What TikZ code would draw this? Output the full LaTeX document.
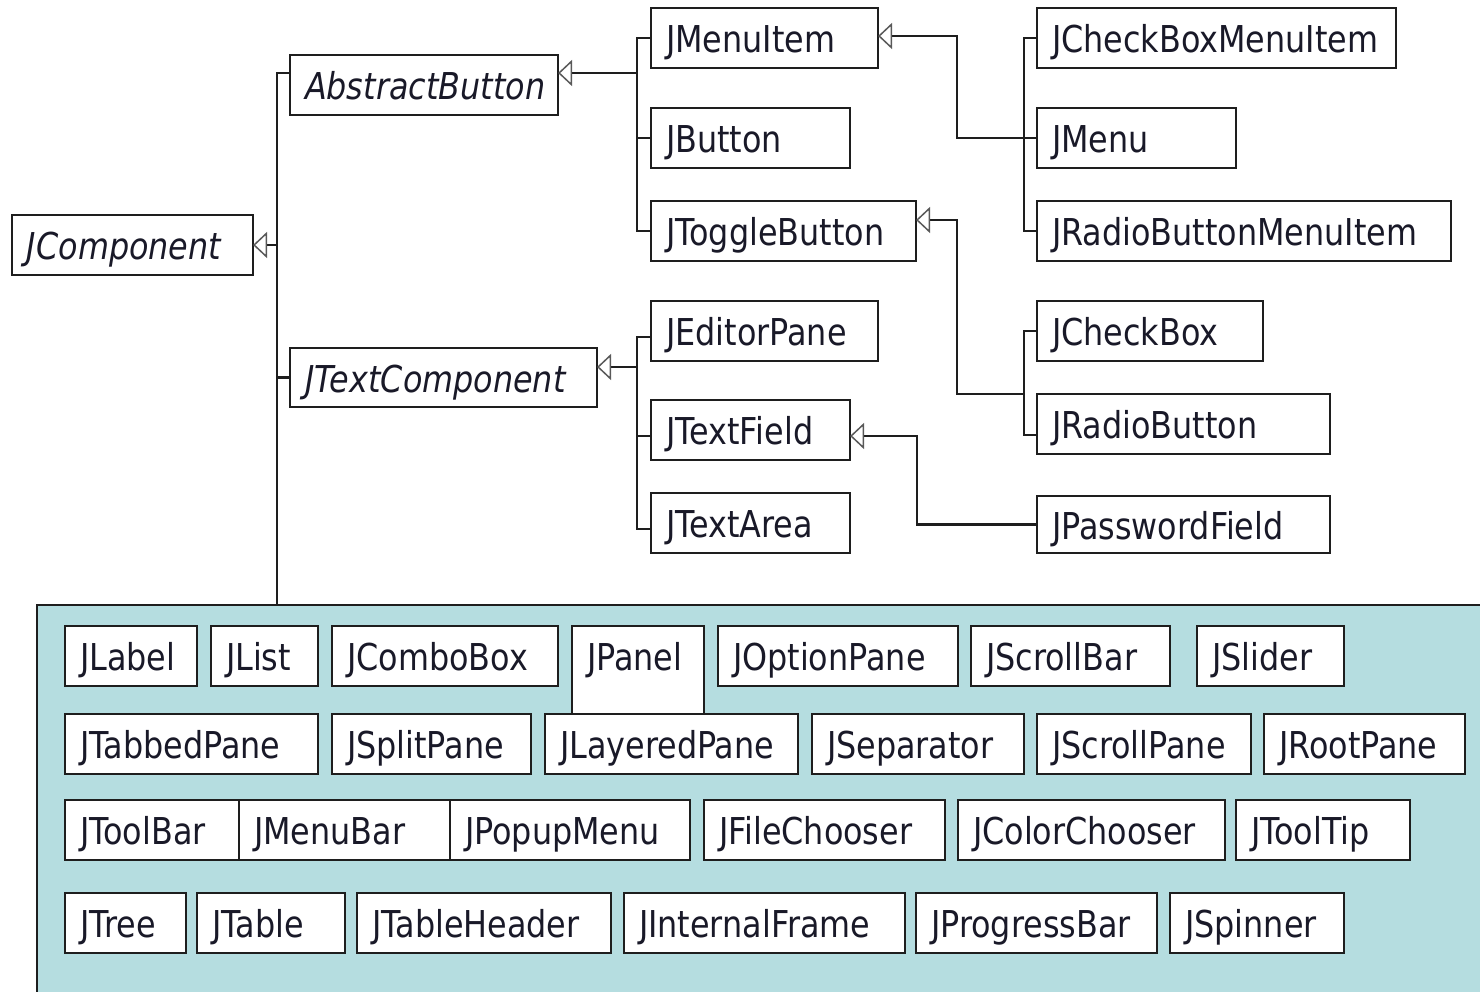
\documentclass[tikz,border=0pt]{standalone}
\usepackage{fontspec}
\setmainfont{DejaVu Sans}[FakeStretch=0.86]
\usetikzlibrary{arrows.meta}
\definecolor{libfill}{RGB}{181,221,224}
\definecolor{txt}{RGB}{25,25,40}
\definecolor{ln}{RGB}{30,30,30}
\tikzset{
  cls/.style={draw=ln, line width=2.2pt, fill=white, anchor=north west,
    inner xsep=15pt, inner ysep=0pt, outer sep=0pt, align=left,
    font=\fontsize{37}{40}\selectfont, text=txt, text height=32pt, text depth=3pt},
  it/.style={font=\fontsize{37}{40}\selectfont\itshape},
  conn/.style={line width=2.2pt, draw=ln},
  inh/.style={conn, {Triangle[open, length=14pt, width=26pt, line width=1.5pt, color=black!65]}-},
}
\newcommand{\cls}[7][]{%
  \pgfmathsetmacro\bw{#5-#3}%
  \pgfmathsetmacro\bh{#6-#4}%
  \pgfmathsetmacro\tw{#5-#3-30}%
  \node[cls, minimum width=\bw pt, minimum height=\bh pt, text width=\tw pt, #1] (#2) at (#3,#4) {#7};%
}
\begin{document}
\begin{tikzpicture}[x=1pt,y=-1pt]
\useasboundingbox (0,0) rectangle (1480,992);
\fill[white] (0,0) rectangle (1480,992);

% library container
\node[draw=ln, line width=2pt, fill=libfill, anchor=north west, minimum width=1480pt, minimum height=420pt, inner sep=0pt, outer sep=0pt] (lib) at (37,605) {};

% hierarchy
\cls[it]{jcomp}{12}{215}{253}{275}{JComponent}
\cls[it]{abs}{290}{55}{558}{115}{AbstractButton}
\cls[it]{tc}{290}{348}{597}{407}{JTextComponent}
\cls{mi}{651}{8}{878}{68}{JMenuItem}
\cls{jb}{651}{108}{850}{168}{JButton}
\cls{tb}{651}{201}{916}{261}{JToggleButton}
\cls{ep}{651}{301}{878}{361}{JEditorPane}
\cls{tf}{651}{400}{850}{460}{JTextField}
\cls{ta}{651}{493}{850}{553}{JTextArea}
\cls{cbmi}{1037}{8}{1396}{68}{JCheckBoxMenuItem}
\cls{jm}{1037}{108}{1236}{168}{JMenu}
\cls{rbmi}{1037}{201}{1451}{261}{JRadioButtonMenuItem}
\cls{cb}{1037}{301}{1263}{361}{JCheckBox}
\cls{rb}{1037}{394}{1330}{454}{JRadioButton}
\cls{pf}{1037}{496}{1330}{553}{JPasswordField}

% row 1
\cls{lab}{65}{626}{197}{686}{JLabel}
\cls{lst}{211}{626}{318}{686}{JList}
\cls{cmb}{332}{626}{558}{686}{JComboBox}
\cls[text depth=31pt]{pnl}{572}{626}{704}{714}{JPanel}
\cls{opt}{718}{626}{958}{686}{JOptionPane}
\cls{sbar}{971}{626}{1170}{686}{JScrollBar}
\cls{sld}{1197}{626}{1344}{686}{JSlider}
% row 2
\cls{tab}{65}{714}{318}{774}{JTabbedPane}
\cls{spl}{332}{714}{531}{774}{JSplitPane}
\cls{lay}{545}{714}{798}{774}{JLayeredPane}
\cls{sep}{812}{714}{1024}{774}{JSeparator}
\cls{spn}{1037}{714}{1251}{774}{JScrollPane}
\cls{root}{1264}{714}{1465}{774}{JRootPane}
% row 3
\cls{tlb}{65}{800}{239}{860}{JToolBar}
\cls{mbar}{239}{800}{450}{860}{JMenuBar}
\cls{pop}{450}{800}{690}{860}{JPopupMenu}
\cls{fch}{704}{800}{945}{860}{JFileChooser}
\cls{cch}{958}{800}{1225}{860}{JColorChooser}
\cls{tip}{1236}{800}{1410}{860}{JToolTip}
% row 4
\cls{tree}{65}{893}{186}{953}{JTree}
\cls{tbl}{197}{893}{345}{953}{JTable}
\cls{th}{357}{893}{611}{953}{JTableHeader}
\cls{ifr}{624}{893}{905}{953}{JInternalFrame}
\cls{prog}{916}{893}{1157}{953}{JProgressBar}
\cls{spin}{1170}{893}{1344}{953}{JSpinner}

% connectors
\coordinate (T) at (277,73);
\draw[conn] (abs.west |- T) -- (T) -- (T |- lib.north);
\draw[inh] (jcomp.east) -- (jcomp.east -| T);
\draw[conn] (tc.west) -- (tc.west -| T);

\coordinate (B1) at (637,73);
\draw[inh] (abs.east |- B1) -- (B1);
\draw[conn] (mi.west) -- (mi.west -| B1) -- (tb.west -| B1) -- (tb.west);
\draw[conn] (jb.west) -- (jb.west -| B1);

\coordinate (B2) at (637,367);
\draw[inh] (tc.east |- B2) -- (B2);
\draw[conn] ([yshift=-6pt]ep.west) -- ([yshift=-6pt]ep.west -| B2) -- ([yshift=-6pt]ta.west -| B2) -- ([yshift=-6pt]ta.west);
\draw[conn] ([yshift=-6pt]tf.west) -- ([yshift=-6pt]tf.west -| B2);

\coordinate (M1) at (957,36);
\draw[inh] (mi.east |- M1) -- (M1) |- (jm.west);
\coordinate (C1) at (1024,36);
\draw[conn] (cbmi.west) -- (cbmi.west -| C1) -- (rbmi.west -| C1) -- (rbmi.west);

\coordinate (M2) at (957,220);
\coordinate (C2) at (1024,394);
\draw[inh] (tb.east |- M2) -- (M2) |- (C2);
\coordinate (R) at (1024,435);
\draw[conn] (cb.west) -- (cb.west -| R) -- (R) -- (rb.west |- R);

\coordinate (P) at (917,436);
\draw[inh] (tf.east |- P) -- (P) |- (pf.west);
\end{tikzpicture}
\end{document}
